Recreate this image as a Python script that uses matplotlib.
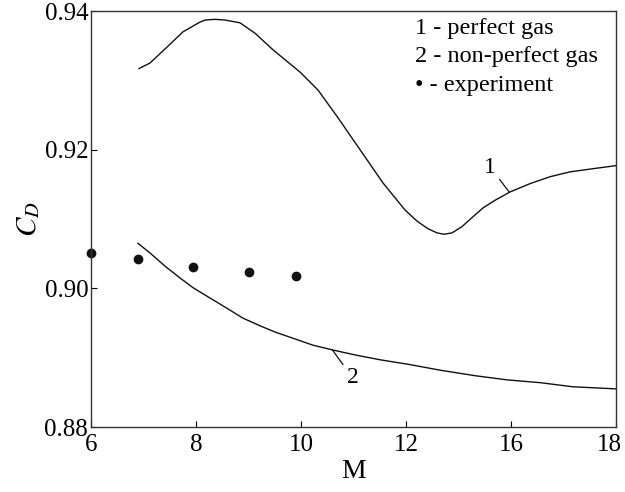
import matplotlib
matplotlib.use("Agg")
import matplotlib.pyplot as plt
import matplotlib.transforms as mtransforms
import numpy as np

plt.rcParams['font.family'] = ['Liberation Serif', 'DejaVu Serif']
plt.rcParams['mathtext.fontset'] = 'stix'

# tick values of the (non-uniform) M axis
m_ticks = [6, 8, 10, 12, 16, 18]
cd_ticks = [0.88, 0.90, 0.92, 0.94]

# curve 1 - perfect gas
m_perfect = [6.914, 7.124, 7.448, 7.752, 8.076, 8.171, 8.362, 8.552, 8.838,
             9.124, 9.467, 9.981, 10.324, 10.705, 11.124, 11.562, 11.981,
             12.419, 12.838, 13.181, 13.448, 13.752, 14.133, 14.514, 14.933,
             15.39, 15.962, 16.362, 16.743, 17.124, 17.505, 18.0]
cd_perfect = [0.9317, 0.9325, 0.9348, 0.9370, 0.9384, 0.9387, 0.9388, 0.9387,
              0.9383, 0.9368, 0.9344, 0.9312, 0.9286, 0.9246, 0.9200, 0.9152,
              0.9113, 0.9097, 0.9086, 0.9080, 0.9078, 0.9080, 0.9089, 0.9102,
              0.9116, 0.9127, 0.9139, 0.9151, 0.9161, 0.9168, 0.9172, 0.9177]

# curve 2 - non-perfect gas
m_nonperfect = [6.895, 7.124, 7.41, 7.695, 7.943, 8.267, 8.552, 8.895, 9.219,
                9.505, 9.848, 10.229, 10.61, 11.029, 11.505, 12.152, 13.295,
                14.629, 15.848, 16.552, 17.181, 18.0]
cd_nonperfect = [0.9065, 0.9051, 0.9032, 0.9015, 0.9001, 0.8986, 0.8973,
                 0.8957, 0.8946, 0.8937, 0.8928, 0.8918, 0.8911, 0.8904,
                 0.8897, 0.8890, 0.8882, 0.8874, 0.8868, 0.8864, 0.8858,
                 0.8855]

# experiment
m_exp = [6.0, 6.9, 7.95, 9.0, 9.9]
cd_exp = [0.9051, 0.9042, 0.9031, 0.9024, 0.9018]

legend_lines = ["1 - perfect gas", "2 - non-perfect gas", "\u2022 - experiment"]

idx = np.arange(len(m_ticks))


def fwd(x):
    return np.interp(x, m_ticks, idx)


def inv(y):
    return np.interp(y, idx, m_ticks)


fig = plt.figure(figsize=(6.25, 4.92), dpi=100)
ax = fig.add_axes([0.1456, 0.1321, 0.84, 0.8455])
ax.set_xscale('function', functions=(fwd, inv))

ax.plot(m_perfect, cd_perfect, color='#111111', lw=1.0)
ax.plot(m_nonperfect, cd_nonperfect, color='#111111', lw=1.0)
ax.plot(m_exp, cd_exp, 'o', color='#111111', ms=6, clip_on=False)

ax.annotate("1", xy=(15.93, 0.9139), xytext=(15.2, 0.9175), fontsize=17,
            ha='center', va='center',
            arrowprops=dict(arrowstyle='-', color='#111111', lw=0.9, shrinkA=1, shrinkB=0))
ax.annotate("2", xy=(10.6, 0.8911), xytext=(10.98, 0.8871), fontsize=17,
            ha='center', va='center',
            arrowprops=dict(arrowstyle='-', color='#111111', lw=0.9, shrinkA=1, shrinkB=0))

for i, s in enumerate(legend_lines):
    ax.text(0.618, 0.959 - i * 0.0685, s, transform=ax.transAxes,
            fontsize=17.5, ha='left', va='center')

ax.set_xlim(6, 18)
ax.set_ylim(0.88, 0.94)
ax.set_xticks(m_ticks)
ax.set_xticklabels([str(t) for t in m_ticks])
ax.set_yticks(cd_ticks)
ax.set_yticklabels([f"{t:.2f}" for t in cd_ticks])
ax.xaxis.set_minor_locator(matplotlib.ticker.NullLocator())

ax.tick_params(direction='in', length=4, width=0.8, labelsize=18, pad=2,
               top=False, right=False)
ax.tick_params(axis='x', pad=5)
for sp in ax.spines.values():
    sp.set_linewidth(1.0)
    sp.set_color('#333333')

# keep the last tick label inside the figure
last = ax.get_xticklabels()[-1]
last.set_transform(last.get_transform() +
                   mtransforms.ScaledTranslation(-7 / 100, 0, fig.dpi_scale_trans))

ax.set_xlabel("M", fontsize=20, labelpad=2)
ax.set_ylabel("$C_D$", fontsize=21, labelpad=2)

fig.savefig("out.png", dpi=100)
